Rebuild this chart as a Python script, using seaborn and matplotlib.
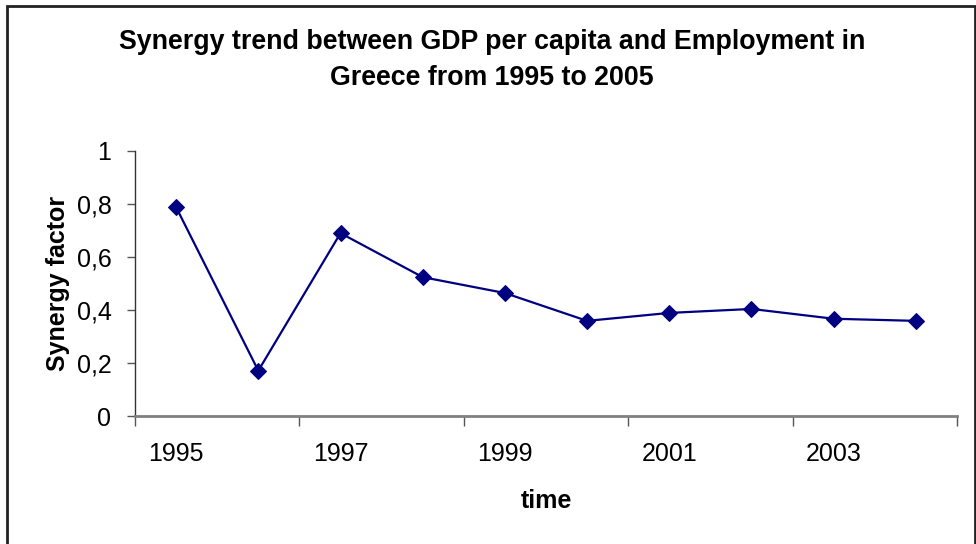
import matplotlib
matplotlib.use("Agg")
import matplotlib.pyplot as plt
from matplotlib.patches import Rectangle
import seaborn as sns
import pandas as pd

# Synergy factor between GDP per capita and employment, Greece
years = ["1995", "1996", "1997", "1998", "1999", "2000", "2001", "2002", "2003", "2004"]
synergy = [0.788, 0.171, 0.690, 0.524, 0.464, 0.359, 0.389, 0.404, 0.367, 0.359]
labelled_years = ["1995", "1997", "1999", "2001", "2003"]
y_ticks = [0, 0.2, 0.4, 0.6, 0.8, 1.0]
y_tick_labels = ["0", "0,2", "0,4", "0,6", "0,8", "1"]

df = pd.DataFrame({"year": years, "synergy": synergy})

sns.set_theme(style="white")
plt.rcParams["font.family"] = ["Liberation Sans", "DejaVu Sans"]
plt.rcParams["text.color"] = "black"
plt.rcParams["axes.labelcolor"] = "black"

fig = plt.figure(figsize=(9.76, 5.44), dpi=100)
fig.patch.set_facecolor("white")
ax = fig.add_axes([135 / 976, 1 - 416 / 544, 822 / 976, 265 / 544])

sns.lineplot(data=df, x="year", y="synergy", sort=False, ax=ax,
             color="#000080", linewidth=1.6, marker="D", markersize=8,
             markeredgecolor="#000080", markerfacecolor="#000080")

n = len(years)
ax.set_xlim(-0.5, n - 0.5)
ax.set_ylim(0, 1)

# tick marks sit between category pairs; labels on every other category
ax.set_xticks([i - 0.5 for i in range(0, n + 1, 2)])
ax.set_xticklabels([""] * len(range(0, n + 1, 2)))
ax.set_xticks([years.index(y) for y in labelled_years], minor=True)
ax.set_xticklabels(labelled_years, minor=True)
ax.tick_params(axis="x", which="major", length=7, width=1, color="#555555",
               direction="out", bottom=True)
ax.tick_params(axis="x", which="minor", length=0, pad=19, labelsize=18,
               labelcolor="black")

ax.set_yticks(y_ticks)
ax.set_yticklabels(y_tick_labels)
ax.tick_params(axis="y", length=6, width=1, color="#555555", direction="out",
               left=True, pad=11, labelsize=18, labelcolor="black")

for side in ("top", "right"):
    ax.spines[side].set_visible(False)
ax.spines["left"].set_color("#333333")
ax.spines["left"].set_linewidth(1.0)
ax.spines["bottom"].set_color("#808080")
ax.spines["bottom"].set_linewidth(2.0)

ax.set_xlabel("time", fontsize=18, fontweight="bold", labelpad=16)
ax.set_ylabel("Synergy factor", fontsize=18, fontweight="bold", labelpad=5)

fig.text(492 / 976, 1 - 60 / 544,
         "Synergy trend between GDP per capita and Employment in\nGreece from 1995 to 2005",
         ha="center", va="center", fontsize=19.3, fontweight="bold",
         linespacing=1.5, color="black")

# outer chart frame
fig.patches.append(Rectangle((7 / 976, -0.05), (975 - 7) / 976, 1.05 - 6 / 544,
                             transform=fig.transFigure, fill=False,
                             edgecolor="#222222", linewidth=2.0))

fig.savefig("out.png", dpi=100)
